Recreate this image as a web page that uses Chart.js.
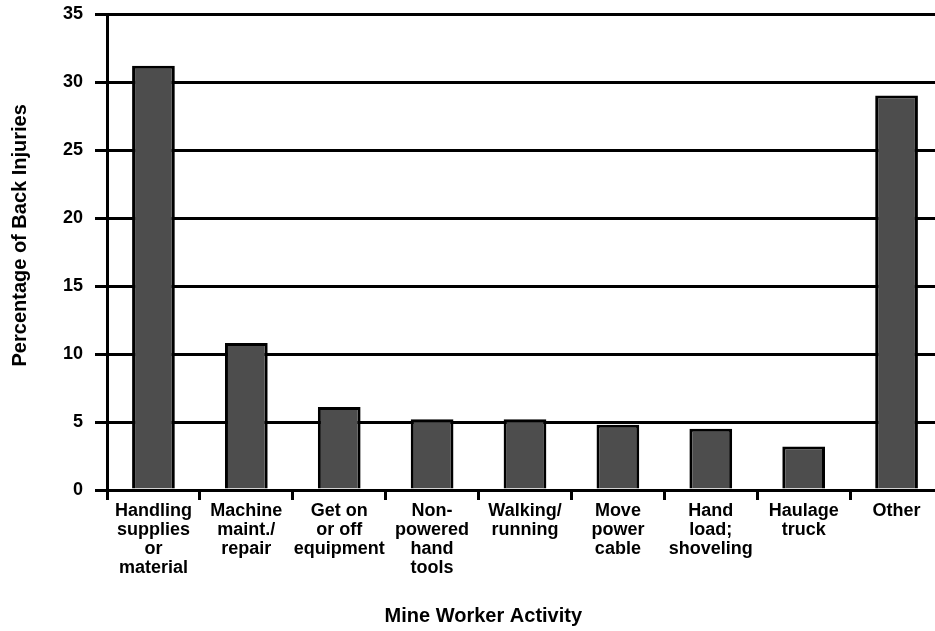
<!DOCTYPE html>
<html>
<head>
<meta charset="utf-8">
<script src="https://cdn.jsdelivr.net/npm/chart.js@4"></script>
<style>
  html, body { margin: 0; padding: 0; background: #fff; overflow: hidden; }
  canvas { display: block; }
</style>
</head>
<body>
<canvas id="myChart" width="944" height="631"></canvas>
<script>
const activities = [
    ['Handling', 'supplies', 'or', 'material'],
    ['Machine', 'maint./', 'repair'],
    ['Get on', 'or off', 'equipment'],
    ['Non-', 'powered', 'hand', 'tools'],
    ['Walking/', 'running'],
    ['Move', 'power', 'cable'],
    ['Hand', 'load;', 'shoveling'],
    ['Haulage', 'truck'],
    ['Other']
];
const backInjuryPct = [31.2, 10.8, 6.1, 5.2, 5.2, 4.8, 4.5, 3.2, 29.0];
const yTicks = [0, 5, 10, 15, 20, 25, 30, 35];

const fontFamily = '"Liberation Sans", Arial, Helvetica, sans-serif';

const ctx = document.getElementById('myChart').getContext('2d');

const myChart = new Chart(ctx, {
    type: 'bar',
    data: {
        labels: activities,
        datasets: [{
            label: 'Percentage of Back Injuries',
            data: backInjuryPct,
            backgroundColor: '#4d4d4d',
            borderColor: '#000',
            borderWidth: 3,
            categoryPercentage: 1,
            barPercentage: 0.46
        }]
    },
    options: {
        responsive: false,
        animation: false,
        layout: { padding: { top: 14, right: 1, left: 0, bottom: 0 } },
        plugins: {
            legend: { display: false },
            tooltip: { enabled: false }
        },
        scales: {
            x: {
                afterFit: (scale) => { scale.height = 141; },
                grid: {
                    drawOnChartArea: false,
                    drawTicks: true,
                    tickLength: 10,
                    color: '#000',
                    lineWidth: 3
                },
                border: { display: true, color: '#000', width: 3 },
                ticks: {
                    color: '#000',
                    autoSkip: false,
                    maxRotation: 0,
                    minRotation: 0,
                    padding: 2,
                    font: { family: fontFamily, size: 18, weight: 'bold', lineHeight: '19px' }
                },
                title: {
                    display: true,
                    text: 'Mine Worker Activity' + ' '.repeat(15),
                    color: '#000',
                    padding: { top: 0, bottom: 3 },
                    font: { family: fontFamily, size: 20, weight: 'bold', lineHeight: 1.2 }
                }
            },
            y: {
                min: 0,
                max: 35,
                afterFit: (scale) => {
                    scale.width = 107;
                    scale.paddingTop = 0;
                    scale.paddingBottom = 0;
                },
                afterBuildTicks: (scale) => { scale.ticks = yTicks.map(v => ({ value: v })); },
                grid: {
                    drawTicks: true,
                    tickLength: 12,
                    color: '#000',
                    lineWidth: 3
                },
                border: { display: true, color: '#000', width: 3 },
                ticks: {
                    color: '#000',
                    padding: 12,
                    font: { family: fontFamily, size: 18, weight: 'bold' }
                },
                title: {
                    display: true,
                    text: ' '.repeat(6) + 'Percentage of Back Injuries',
                    color: '#000',
                    padding: { top: 8, bottom: 0 },
                    font: { family: fontFamily, size: 20, weight: 'bold', lineHeight: 1.2 }
                }
            }
        }
    }
});
</script>
</body>
</html>
